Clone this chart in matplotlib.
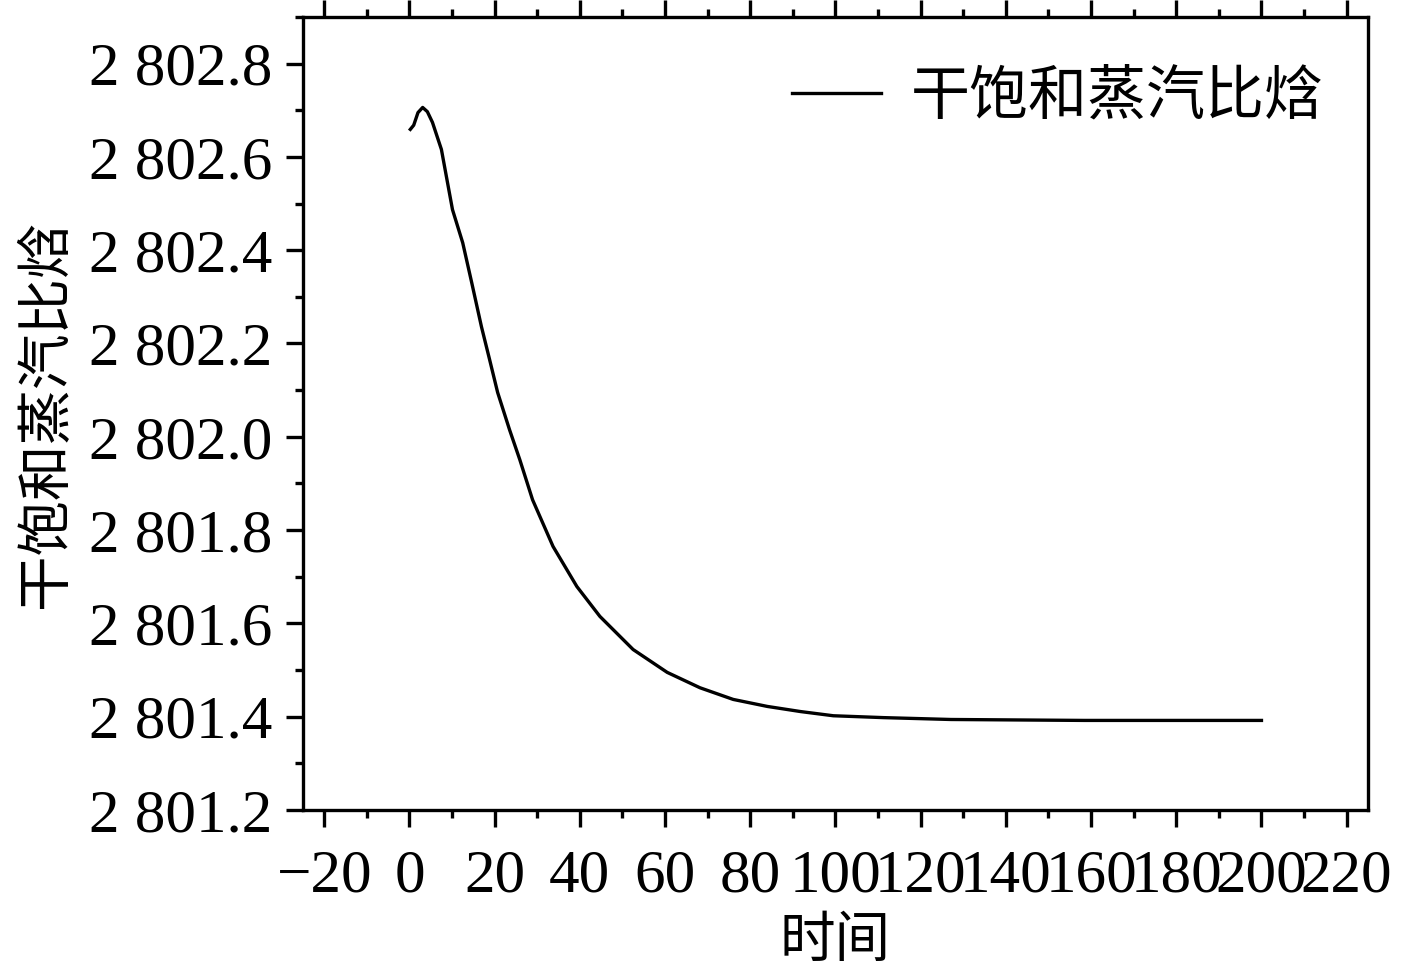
import matplotlib
matplotlib.use('Agg')
import matplotlib.pyplot as plt
from matplotlib.ticker import MultipleLocator, FuncFormatter
import numpy as np

# time and dry saturated steam enthalpy
t = [0.2, 1.0, 2.0, 3.1, 4.2, 5.4, 7.5, 10.1, 12.5, 14.6, 16.9, 18.8, 20.7, 23.5,
     25.9, 28.9, 33.7, 39.3, 44.7, 52.5, 60.5, 68.2, 76.0, 84.0, 91.8, 99.5,
     111.3, 127.1, 158.4, 200.0]
h = [2802.659, 2802.668, 2802.695, 2802.706, 2802.697, 2802.674, 2802.616,
     2802.487, 2802.416, 2802.331, 2802.236, 2802.166, 2802.095, 2802.015,
     2801.951, 2801.865, 2801.765, 2801.679, 2801.615, 2801.544, 2801.495,
     2801.462, 2801.437, 2801.422, 2801.411, 2801.402, 2801.398, 2801.394,
     2801.392, 2801.392]

series_name = '干饱和蒸汽比焓'
x_label = '时间'
y_label = '干饱和蒸汽比焓'

cjk = ['Noto Sans CJK SC', 'DejaVu Sans']
plt.rcParams['font.family'] = ['Liberation Serif', 'Noto Sans CJK SC']
plt.rcParams['axes.unicode_minus'] = True

fig = plt.figure(figsize=(14.17, 9.69), dpi=100)
ax = fig.add_axes([0.2138, 0.1641, 0.7516, 0.8184])

ax.plot(t, h, color='black', lw=2.4, label=series_name)

ax.set_xlim(-25, 225)
ax.set_ylim(2801.2, 2802.9)
ax.xaxis.set_major_locator(MultipleLocator(20))
ax.xaxis.set_minor_locator(MultipleLocator(10))
ax.yaxis.set_major_locator(MultipleLocator(0.2))
ax.yaxis.set_minor_locator(MultipleLocator(0.1))
ax.yaxis.set_major_formatter(FuncFormatter(lambda v, p: '{:,.1f}'.format(v).replace(',', ' ')))
ax.xaxis.set_major_formatter(FuncFormatter(lambda v, p: ('\u2212%d' % -v) if v < 0 else '%d' % v))

for s in ax.spines.values():
    s.set_linewidth(2.4)

ax.tick_params(axis='x', which='both', direction='out', top=True, bottom=True,
               labeltop=False, width=2.4)
ax.tick_params(axis='y', which='both', direction='out', left=True, right=False, width=2.4)
ax.tick_params(which='major', length=12, labelsize=44)
ax.tick_params(axis='x', which='major', pad=16)
ax.tick_params(axis='y', which='major', pad=10)
ax.tick_params(which='minor', length=6)

ax.set_xlabel(x_label, family=cjk, fontsize=40, labelpad=6)
ax.set_ylabel(y_label, family=cjk, fontsize=40, labelpad=10)

leg = ax.legend(loc='upper right', bbox_to_anchor=(0.997, 0.99), frameon=False,
                handlelength=1.5, handletextpad=0.5, borderaxespad=0.3,
                prop={'family': cjk, 'size': 42.5})

fig.savefig('out.png', dpi=100)
